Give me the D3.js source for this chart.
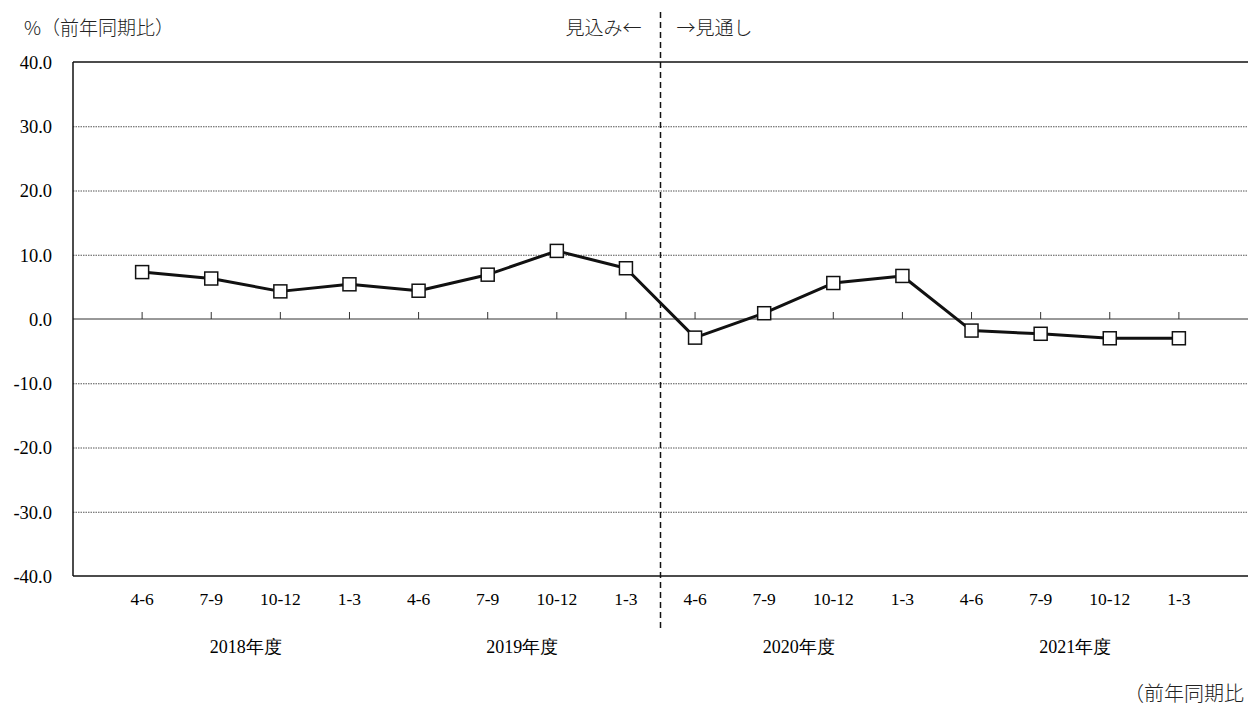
<!DOCTYPE html>
<html><head><meta charset="utf-8">
<script src="https://cdn.jsdelivr.net/npm/d3@7/dist/d3.min.js"></script>
<style>
html,body{margin:0;padding:0;background:#fff;overflow:hidden}
svg text{font-family:"Liberation Serif","Times New Roman",Times,serif;fill:#000}
svg text.jp{font-family:"Noto Sans CJK JP",sans-serif;font-weight:300;fill:#222}
</style></head><body>
<script>
const quarters = ["4-6","7-9","10-12","1-3","4-6","7-9","10-12","1-3","4-6","7-9","10-12","1-3","4-6","7-9","10-12","1-3"];
const years = ["2018年度","2019年度","2020年度","2021年度"];
const values = [7.3,6.3,4.3,5.4,4.4,6.9,10.6,7.9,-2.9,0.9,5.6,6.7,-1.8,-2.3,-3.0,-3.0];
const yTicks = [40,30,20,10,0,-10,-20,-30,-40];

const W=1248,H=708;
const L=73,R=1248,T=62,B=576;
const svg=d3.select("body").append("svg").attr("width",W).attr("height",H);
const ids=quarters.map((q,i)=>i);
const x=d3.scalePoint().domain(ids).range([L,R]).padding(1);
const y=d3.scaleLinear().domain([-40,40]).range([B,T]);

svg.append("g").selectAll("line").data(yTicks.filter(v=>v!==40&&v!==-40&&v!==0)).join("line")
 .attr("x1",L).attr("x2",R).attr("y1",d=>y(d)+0.5).attr("y2",d=>y(d)+0.5)
 .attr("stroke","#555").attr("stroke-width",1).attr("stroke-dasharray","1.5,1");
svg.append("line").attr("x1",L).attr("x2",R).attr("y1",y(40)).attr("y2",y(40)).attr("stroke","#111").attr("stroke-width",1.5);
svg.append("line").attr("x1",L).attr("x2",R).attr("y1",y(0)).attr("y2",y(0)).attr("stroke","#333").attr("stroke-width",1);
svg.append("line").attr("x1",L).attr("x2",R).attr("y1",y(-40)).attr("y2",y(-40)).attr("stroke","#111").attr("stroke-width",1.5);
svg.append("line").attr("x1",L).attr("x2",L).attr("y1",y(40)).attr("y2",y(-40)).attr("stroke","#111").attr("stroke-width",1.5);

const ya=d3.axisLeft(y).tickValues(yTicks).tickFormat(d3.format(".1f")).tickSize(0).tickPadding(21);
const yg=svg.append("g").attr("transform",`translate(${L},0)`).call(ya);
yg.attr("font-family",null).attr("font-size",null);
yg.select(".domain").remove();
yg.selectAll("text").attr("font-size",18.5).attr("dy","0.34em").text(d=>d<0?"-"+d3.format(".1f")(-d):d3.format(".1f")(d));

svg.append("g").selectAll("line").data(ids).join("line")
 .attr("x1",d=>x(d)).attr("x2",d=>x(d)).attr("y1",y(0)-7).attr("y2",y(0))
 .attr("stroke","#333").attr("stroke-width",1);

svg.append("g").selectAll("text").data(ids).join("text")
 .attr("x",d=>x(d)).attr("y",605).attr("text-anchor","middle").attr("font-size",17.5)
 .text(d=>quarters[d]);
svg.append("g").selectAll("text").data(years).join("text")
 .attr("x",(d,i)=>(x(i*4)+x(i*4+3))/2).attr("y",653).attr("text-anchor","middle").attr("font-size",18)
 .text(d=>d);

const xDiv=(x(7)+x(8))/2;
svg.append("line").attr("x1",xDiv).attr("x2",xDiv).attr("y1",12).attr("y2",632)
 .attr("stroke","#111").attr("stroke-width",1.5).attr("stroke-dasharray","6,4");

svg.append("path").datum(values).attr("fill","none").attr("stroke","#111").attr("stroke-width",3)
 .attr("stroke-linejoin","round")
 .attr("d",d3.line().x((d,i)=>x(i)).y(d=>y(d)));
svg.append("g").selectAll("rect").data(values).join("rect")
 .attr("x",(d,i)=>x(i)-6.5).attr("y",d=>y(d)-6.5).attr("width",13).attr("height",13)
 .attr("fill","#fff").attr("stroke","#111").attr("stroke-width",1.5);

svg.append("text").attr("class","jp").attr("x",24).attr("y",35).attr("font-size",19).text("%（前年同期比）");
svg.append("text").attr("class","jp").attr("x",xDiv-19).attr("y",35).attr("text-anchor","end").attr("font-size",19).text("見込み←");
svg.append("text").attr("class","jp").attr("x",xDiv+16).attr("y",35).attr("font-size",19).text("→見通し");
svg.append("text").attr("class","jp").attr("x",1244).attr("y",701).attr("text-anchor","end").attr("font-size",20).text("（前年同期比");
</script></body></html>
